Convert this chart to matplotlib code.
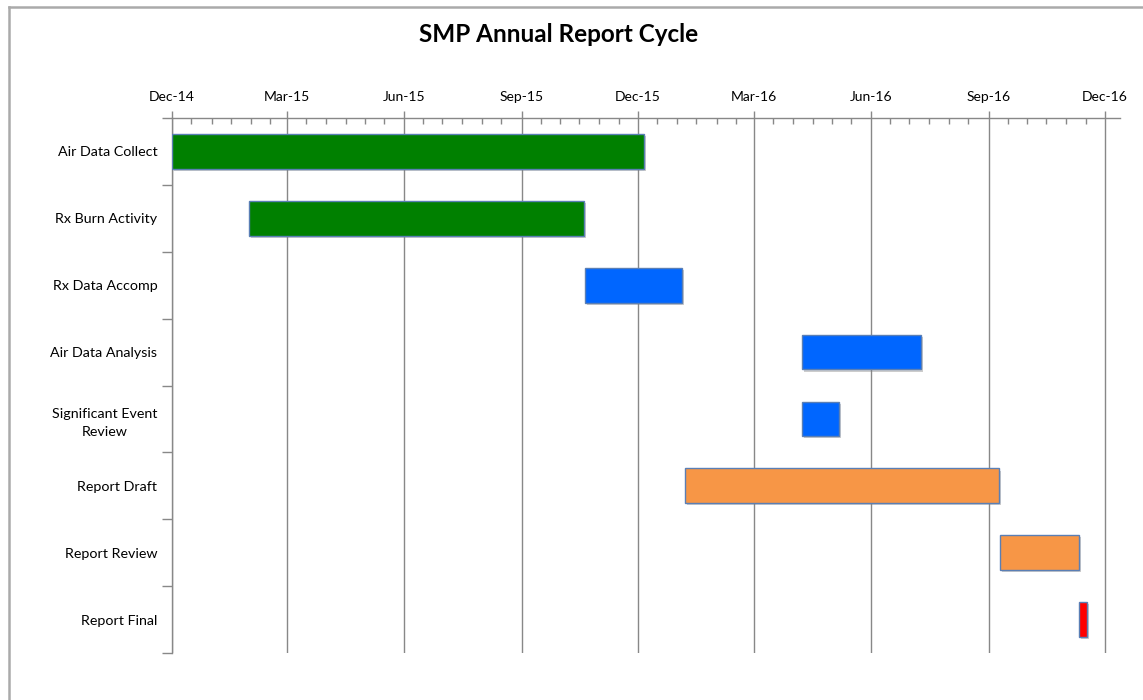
import matplotlib
matplotlib.use("Agg")
import matplotlib.pyplot as plt
import matplotlib.dates as mdates
import matplotlib.patheffects as pe
from matplotlib.lines import Line2D
from matplotlib.ticker import FixedLocator
import pandas as pd

tasks = ["Air Data Collect", "Rx Burn Activity", "Rx Data Accomp", "Air Data Analysis",
         "Significant Event\nReview", "Report Draft", "Report Review", "Report Final"]
starts = ["2014-12-01", "2015-01-30", "2015-10-21", "2016-04-08",
          "2016-04-08", "2016-01-07", "2016-09-10", "2016-11-11"]
ends = ["2015-12-06", "2015-10-20", "2016-01-05", "2016-07-10",
        "2016-05-07", "2016-09-09", "2016-11-11", "2016-11-17"]
colors = ["#008000", "#008000", "#0066FF", "#0066FF",
          "#0066FF", "#F79646", "#F79646", "#FF0000"]
title = "SMP Annual Report Cycle"
x_min, x_max = "2014-12-01", "2016-12-13"

plt.rcParams['font.family'] = ['Lato', 'DejaVu Sans']

W, H = 1143, 700
fig = plt.figure(figsize=(W / 100, H / 100), dpi=100)
ax = fig.add_axes([172 / W, 1 - 653 / H, (1120 - 172) / W, (653 - 118) / H])

s = mdates.date2num(pd.to_datetime(starts))
e = mdates.date2num(pd.to_datetime(ends))
ypos = list(range(len(tasks)))
ax.barh(ypos, e - s, left=s, height=0.52, color=colors, edgecolor="#5A7FB5",
        linewidth=1.0, zorder=3,
        path_effects=[pe.SimplePatchShadow(offset=(1.5, -1.5), shadow_rgbFace="#808080", alpha=0.4),
                      pe.Normal()])

ax.set_xlim(mdates.date2num(pd.Timestamp(x_min)), mdates.date2num(pd.Timestamp(x_max)))
ax.set_ylim(len(tasks) - 0.5, -0.5)

ax.xaxis.tick_top()
ax.xaxis.set_major_locator(mdates.MonthLocator(bymonth=[3, 6, 9, 12], bymonthday=1))
ax.xaxis.set_major_formatter(mdates.DateFormatter("%b-%y"))
minors = []
for d in pd.date_range("2014-12-01", "2016-12-31", freq="MS"):
    minors.append(mdates.date2num(d))
    minors.append(mdates.date2num(d + pd.Timedelta(days=15)))
ax.xaxis.set_minor_locator(FixedLocator(minors))
ax.tick_params(axis="x", which="major", direction="out", length=5, width=1,
               color="#888888", labelsize=10, pad=6, labelcolor="#000000")
ax.tick_params(axis="x", which="minor", direction="in", length=4, width=1, color="#888888")
ax.grid(axis="x", which="major", color="#888888", linewidth=1, zorder=0)
ax.set_axisbelow(True)

ax.set_yticks([i - 0.5 for i in range(len(tasks) + 1)])
ax.set_yticklabels([])
ax.set_yticks(ypos, minor=True)
ax.set_yticklabels(tasks, minor=True, fontsize=10.3, linespacing=1.65, multialignment="center")
ax.tick_params(axis="y", which="major", direction="out", length=7, width=1, color="#888888")
ax.tick_params(axis="y", which="minor", length=0, pad=10.5)

for side in ["right", "bottom"]:
    ax.spines[side].set_visible(False)
for side in ["left", "top"]:
    ax.spines[side].set_color("#888888")
    ax.spines[side].set_linewidth(1)

fig.text(559 / W, 1 - 35 / H, title, ha="center", va="center", fontsize=17.5, fontweight="bold")

fig.add_artist(Line2D([8.5 / W, 8.5 / W], [0, 1 - 6.5 / H], transform=fig.transFigure,
                      color="#AAAAAA", linewidth=1.8))
fig.add_artist(Line2D([8.5 / W, 1], [1 - 6.5 / H, 1 - 6.5 / H], transform=fig.transFigure,
                      color="#AAAAAA", linewidth=1.8))

fig.savefig("out.png", dpi=100)
